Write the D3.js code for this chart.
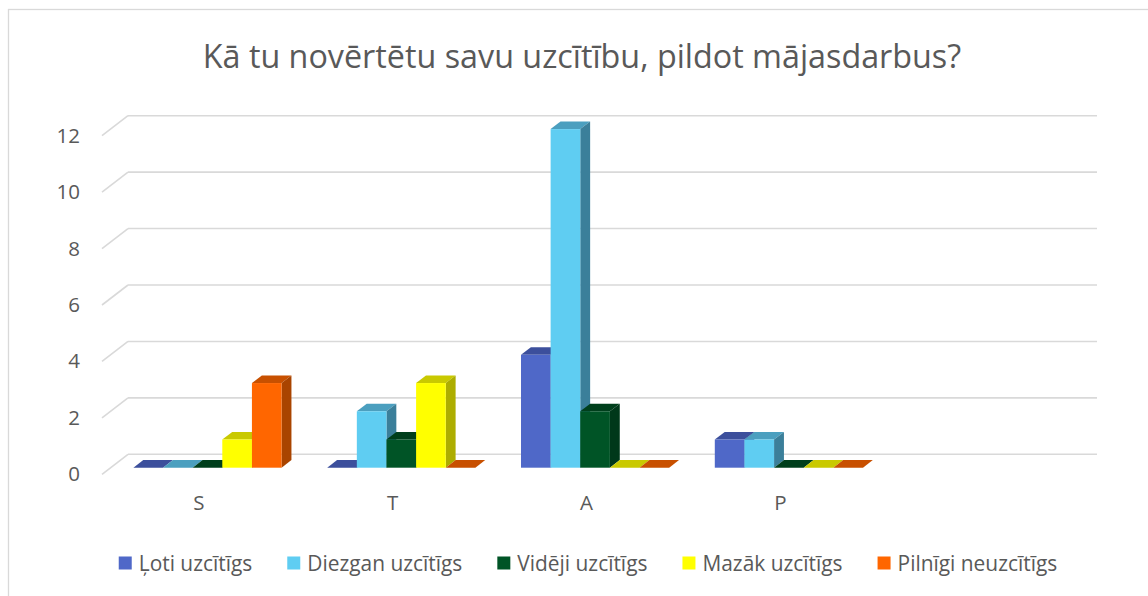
<!DOCTYPE html>
<html>
<head>
<meta charset="utf-8">
<script src="https://cdnjs.cloudflare.com/ajax/libs/d3/7.8.5/d3.min.js"></script>
<style>
  body { margin: 0; background: #fff; }
  text { font-family: "Open Sans", Lato, sans-serif; fill: #595959; }
</style>
</head>
<body>
<div id="chart"></div>
<script>
// chart data
var categories = ["S", "T", "A", "P", ""];
var seriesNames = ["Ļoti uzcītīgs", "Diezgan uzcītīgs", "Vidēji uzcītīgs", "Mazāk uzcītīgs", "Pilnīgi neuzcītīgs"];
var lotiValues     = [0, 0, 4, 1, null];
var diezganValues  = [0, 2, 12, 1, null];
var videjiValues   = [0, 1, 2, 0, null];
var mazakValues    = [1, 3, 0, 0, null];
var pilnigiValues  = [3, 0, 0, 0, null];
var yTicks = [0, 2, 4, 6, 8, 10, 12];
var title = "Kā tu novērtētu savu uzcītību, pildot mājasdarbus?";

var seriesValues = [lotiValues, diezganValues, videjiValues, mazakValues, pilnigiValues];
// front / top / side colours of each series
var colors = [
  { front: "#4f68c8", top: "#3c4f9c", side: "#364892" },
  { front: "#5fcdf2", top: "#4b9fbf", side: "#3b7f9a" },
  { front: "#005426", top: "#003f1c", side: "#00381a" },
  { front: "#ffff00", top: "#c9c900", side: "#adad00" },
  { front: "#ff6600", top: "#c85000", side: "#a94400" }
];

var width = 1148, height = 596;
var font = "'Open Sans', Lato, sans-serif";
// oblique depth: from back wall to front edge
var depthX = -26, depthY = 20;
var barFront = 0.67, barBack = 0.29;   // fraction of depth taken by bars

var svg = d3.select("#chart").append("svg")
  .attr("width", width)
  .attr("height", height);

// chart frame
svg.append("rect")
  .attr("x", 8.5).attr("y", 9.5)
  .attr("width", width).attr("height", height)
  .attr("fill", "none")
  .attr("stroke", "#d9d9d9")
  .attr("stroke-width", 1.3);

var x = d3.scaleBand()
  .domain(categories)
  .range([128, 1097]);

var x1 = d3.scaleBand()
  .domain(seriesNames)
  .range([0, x.bandwidth()])
  .paddingOuter(0.77);

var y = d3.scaleLinear()
  .domain([0, 12])
  .range([454.3, 115.7]);

function proj(px, v, f) {
  return [px + depthX * f, y(v) + depthY * f];
}

// gridlines on the back wall and side wall
var grid = svg.append("g").attr("class", "grid");
grid.selectAll("line.back")
  .data(yTicks)
  .enter().append("line")
    .attr("class", "back")
    .attr("x1", x.range()[0]).attr("x2", x.range()[1])
    .attr("y1", function(d) { return y(d); })
    .attr("y2", function(d) { return y(d); })
    .attr("stroke", "#d9d9d9").attr("stroke-width", 1.6);
grid.selectAll("line.side")
  .data(yTicks)
  .enter().append("line")
    .attr("class", "side")
    .attr("x1", x.range()[0]).attr("x2", x.range()[0] + depthX)
    .attr("y1", function(d) { return y(d); })
    .attr("y2", function(d) { return y(d) + depthY; })
    .attr("stroke", "#d9d9d9").attr("stroke-width", 1.6);

// y axis labels sit at the front edge
var yAxis = svg.append("g")
  .attr("transform", "translate(" + (x.range()[0] + depthX) + "," + depthY + ")")
  .call(d3.axisLeft(y).tickValues(yTicks).tickSize(0).tickPadding(22));
yAxis.select(".domain").remove();
yAxis.selectAll("text")
  .attr("font-family", font)
  .attr("font-size", 20.5)
  .attr("fill", "#595959");

var xAxis = svg.append("g")
  .attr("transform", "translate(" + depthX + "," + (y(0) + depthY) + ")")
  .call(d3.axisBottom(x).tickSize(0).tickPadding(21));
xAxis.select(".domain").remove();
xAxis.selectAll("text")
  .attr("font-family", font)
  .attr("font-size", 20.5)
  .attr("fill", "#595959");

// bars, drawn left to right so each front face covers the side of the previous one
var bars = [];
categories.forEach(function(c, ci) {
  seriesNames.forEach(function(s, si) {
    var v = seriesValues[si][ci];
    if (v === null || v === undefined) return;
    bars.push({ cat: c, series: s, si: si, value: v });
  });
});

function poly(pts) {
  return pts.map(function(p) { return p.join(","); }).join(" ");
}

var barG = svg.append("g").attr("class", "bars")
  .selectAll("g")
  .data(bars)
  .enter().append("g");

barG.each(function(d) {
  var g = d3.select(this);
  var x0 = x(d.cat) + x1(d.series);
  var xr = x0 + x1.bandwidth();
  var c = colors[d.si];
  // top face
  g.append("polygon")
    .attr("points", poly([proj(x0, d.value, barFront), proj(xr, d.value, barFront),
                          proj(xr, d.value, barBack), proj(x0, d.value, barBack)]))
    .attr("fill", c.top);
  if (d.value > 0) {
    // side face
    g.append("polygon")
      .attr("points", poly([proj(xr, 0, barFront), proj(xr, d.value, barFront),
                            proj(xr, d.value, barBack), proj(xr, 0, barBack)]))
      .attr("fill", c.side);
    // front face
    var a = proj(x0, d.value, barFront), b = proj(xr, 0, barFront);
    g.append("rect")
      .attr("x", a[0]).attr("y", a[1])
      .attr("width", b[0] - a[0]).attr("height", b[1] - a[1])
      .attr("fill", c.front);
  }
});

// title
svg.append("text")
  .attr("x", 582).attr("y", 55)
  .attr("text-anchor", "middle")
  .attr("dominant-baseline", "central")
  .attr("font-size", 32.3)
  .text(title);

// legend, centred
var legend = svg.append("g").attr("class", "legend");
var items = legend.selectAll("g")
  .data(seriesNames)
  .enter().append("g");
items.append("rect")
  .attr("width", 13).attr("height", 13)
  .attr("y", -6.5)
  .attr("fill", function(d, i) { return colors[i].front; });
items.append("text")
  .attr("x", 20)
  .attr("dominant-baseline", "central")
  .attr("font-size", 20.9)
  .text(function(d) { return d; });

var offset = 0;
items.each(function(d) {
  var w = 20 + d3.select(this).select("text").node().getComputedTextLength();
  d3.select(this).attr("transform", "translate(" + offset + ",0)");
  offset += w + 35;
});
var legendWidth = offset - 35;
legend.attr("transform", "translate(" + (588 - legendWidth / 2) + ",563)");
</script>
</body>
</html>
